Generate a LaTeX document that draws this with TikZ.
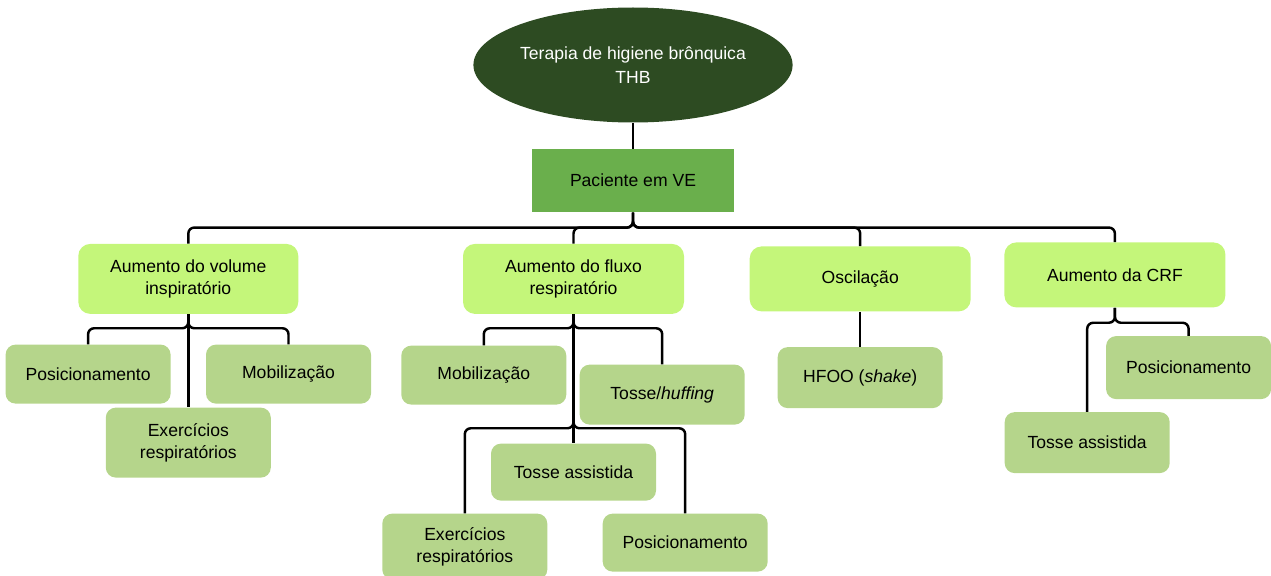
\documentclass[tikz,border=0pt]{standalone}
\usepackage{fontspec}
\setmainfont{Liberation Sans}
\usepackage{tikz}
\usetikzlibrary{shapes.geometric, arrows}
\usetikzlibrary{positioning}
\usetikzlibrary{calc}
\definecolor{thbgreen}{RGB}{45,75,34}
\definecolor{pacgreen}{RGB}{106,175,76}
\definecolor{limegreen}{RGB}{196,246,122}
\definecolor{olivegreen}{RGB}{181,213,139}
\tikzstyle{topnode} = [ellipse, minimum width=6.36cm, minimum height=2.3cm, inner sep=0pt, text centered, fill=thbgreen, text=white, font=\fontsize{10}{14}\selectfont]
\tikzstyle{patient} = [rectangle, minimum width=4.04cm, minimum height=1.26cm, text centered, fill=pacgreen]
\tikzstyle{group} = [rectangle, rounded corners=0.24cm, minimum width=4.42cm, minimum height=1.4cm, text centered, fill=limegreen]
\tikzstyle{item} = [rectangle, rounded corners=0.2cm, minimum width=3.3cm, minimum height=1.2cm, text centered, fill=olivegreen]
\tikzstyle{link} = [line width=1.4pt, rounded corners=0.12cm]

\begin{document}
\begin{tikzpicture}[every text node part/.style={align=center}, font=\fontsize{10}{12.5}\selectfont]
		
		\useasboundingbox (0,0) rectangle (25.42,-11.52);
		
		\node (thb) [topnode] at (12.66,-1.3) {Terapia de higiene brônquica\\THB};
		\node (pac) [patient, below = 0.52cm of thb] {Paciente em VE};
		
		\node (vol) [group, minimum width=4.4cm, below left = 0.62cm and 4.66cm of pac.south west, anchor=north east] {Aumento do volume\\inspiratório};
		\node (flx) [group, right = 3.28cm of vol] {Aumento do fluxo\\respiratório};
		\node (osc) [group, minimum height=1.3cm, right = 1.3cm of flx] {Oscilação};
		\node (crf) [group, minimum height=1.3cm, right = 0.66cm of osc, yshift=0.08cm] {Aumento da CRF};
		
		% volume inspiratorio
		\node (vpos) [item, minimum height=1.18cm, below left = 0.6cm and -1.86cm of vol] {Posicionamento};
		\node (vmob) [item, minimum height=1.18cm, below right = 0.6cm and -1.86cm of vol] {Mobilização};
		\node (vexe) [item, minimum height=1.4cm, below = 1.86cm of vol] {Exercícios\\respiratórios};
		
		% fluxo respiratorio
		\node (fmob) [item, minimum height=1.18cm, below left = 0.62cm and -2.08cm of flx] {Mobilização};
		\node (ftos) [item, below right = 1cm and -2.1cm of flx] {Tosse/\textit{huffing}};
		\node (fass) [item, minimum height=1.14cm, below = 2.58cm of flx] {Tosse assistida};
		\node (fexe) [item, minimum height=1.32cm, below left = 3.98cm and -1.7cm of flx] {Exercícios\\respiratórios};
		\node (fpos) [item, minimum height=1.16cm, below right = 3.98cm and -1.64cm of flx] {Posicionamento};
		
		% oscilacao
		\node (hfoo) [item, minimum height=1.22cm, below = 0.7cm of osc] {HFOO (\textit{shake})};
		
		% CRF
		\node (cpos) [item, minimum height=1.26cm, below right = 0.56cm and -2.4cm of crf] {Posicionamento};
		\node (cass) [item, minimum height=1.22cm, below left = 2.08cm and -3.32cm of crf] {Tosse assistida};
		
		\coordinate (bus_top) at ([yshift=-0.3cm] pac.south);
		\coordinate (bus_vol) at ([yshift=-0.28cm] vol.south);
		\coordinate (bus_flx) at ([yshift=-0.28cm] flx.south);
		\coordinate (bus_flx2) at ([yshift=-2.28cm] flx.south);
		\coordinate (bus_crf) at ([yshift=-0.3cm] crf.south);
		
		\draw [link] (thb.south) -- (pac.north);
		
		\draw [link] (pac.south) |- (bus_top -| vol.north) -- (vol.north);
		\draw [link] (pac.south) |- (bus_top -| flx.north) -- (flx.north);
		\draw [link] (pac.south) |- (bus_top -| osc.north) -- (osc.north);
		\draw [link] (pac.south) |- (bus_top -| crf.north) -- (crf.north);
		
		\draw [link] (vol.south) |- (bus_vol -| vpos.north) -- (vpos.north);
		\draw [link] (vol.south) |- (bus_vol -| vmob.north) -- (vmob.north);
		\draw [link] (vol.south) -- (vexe.north);
		
		\draw [link] (flx.south) |- (bus_flx -| fmob.north) -- (fmob.north);
		\draw [link] (flx.south) |- (bus_flx -| ftos.north) -- (ftos.north);
		\draw [link] (flx.south) -- (fass.north);
		\draw [link] (flx.south) |- (bus_flx2 -| fexe.north) -- (fexe.north);
		\draw [link] (flx.south) |- (bus_flx2 -| fpos.north) -- (fpos.north);
		
		\draw [link] (osc.south) -- (hfoo.north);
		
		\draw [link] (crf.south) |- (bus_crf -| cass.north) -- (cass.north);
		\draw [link] (crf.south) |- (bus_crf -| cpos.north) -- (cpos.north);
		
\end{tikzpicture}
\end{document}
